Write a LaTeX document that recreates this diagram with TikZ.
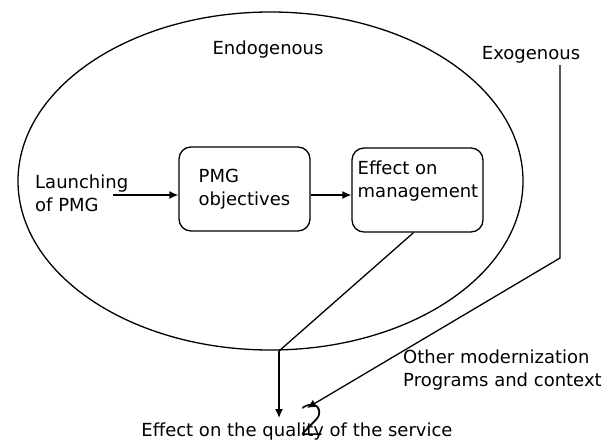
\documentclass[tikz,border=0pt]{standalone}
\usepackage{fontspec}
\setmainfont{DejaVu Sans}
\newfontfamily\thindigit{DejaVu Sans ExtraLight}
\usetikzlibrary{arrows.meta,shapes.geometric}
\begin{document}
\begin{tikzpicture}[x=1pt,y=-1pt,
  every node/.style={font=\fontsize{18}{23}\selectfont},
  txt/.style={inner sep=0pt, align=left},
  stepbox/.style={draw, rounded corners=12pt, minimum width=131pt, minimum height=84pt, line width=1.3pt},
  conn/.style={line width=1.3pt},
  arr/.style={conn, -{Latex[length=9pt,width=8pt]}}]
\useasboundingbox (0,0) rectangle (607,442);

% endogenous region
\node[draw, ellipse, line width=1.3pt, minimum width=505pt, minimum height=338pt, inner sep=0pt] (endo) at (270.5,181) {};
\node[txt] (endolbl) at (268,50) {Endogenous};

% chain inside the region
\node[txt, anchor=west] (launch) at (35,193.5) {Launching\\of PMG};
\coordinate (launchout) at (113,195);
\node[stepbox, align=left] (obj) at (244.5,189) {PMG\\objectives};
\node[stepbox] (mgmt) at (417.5,190) {};
\node[txt] (mgmtlbl) at (418,181.5) {Effect on\\management};

\draw[arr] (launchout) -- (launchout -| obj.west);
\draw[arr] (obj.east |- 0,195) -- (mgmt.west |- 0,195);

% outcome
\node[txt, anchor=base] (quality) at (297,436) {Effect on the quality of the service};
\node[inner sep=0pt, font=\fontsize{42}{42}\thindigit] (pagenum) at (313,420) {2};
\coordinate (merge) at (279,351);
\draw[conn] ([xshift=-4pt]mgmt.south) -- (merge);
\draw[arr] (merge) -- (merge |- 0,418);

% exogenous influences
\node[txt] (exo) at (531,55) {Exogenous};
\coordinate (exobend) at (560,258);
\coordinate (exotip) at (307,408);
\draw[arr] (exobend |- 0,65) -- (exobend) -- (exotip);
\node[txt, anchor=west] (other) at (403,370) {Other modernization\\Programs and context};
\end{tikzpicture}
\end{document}
